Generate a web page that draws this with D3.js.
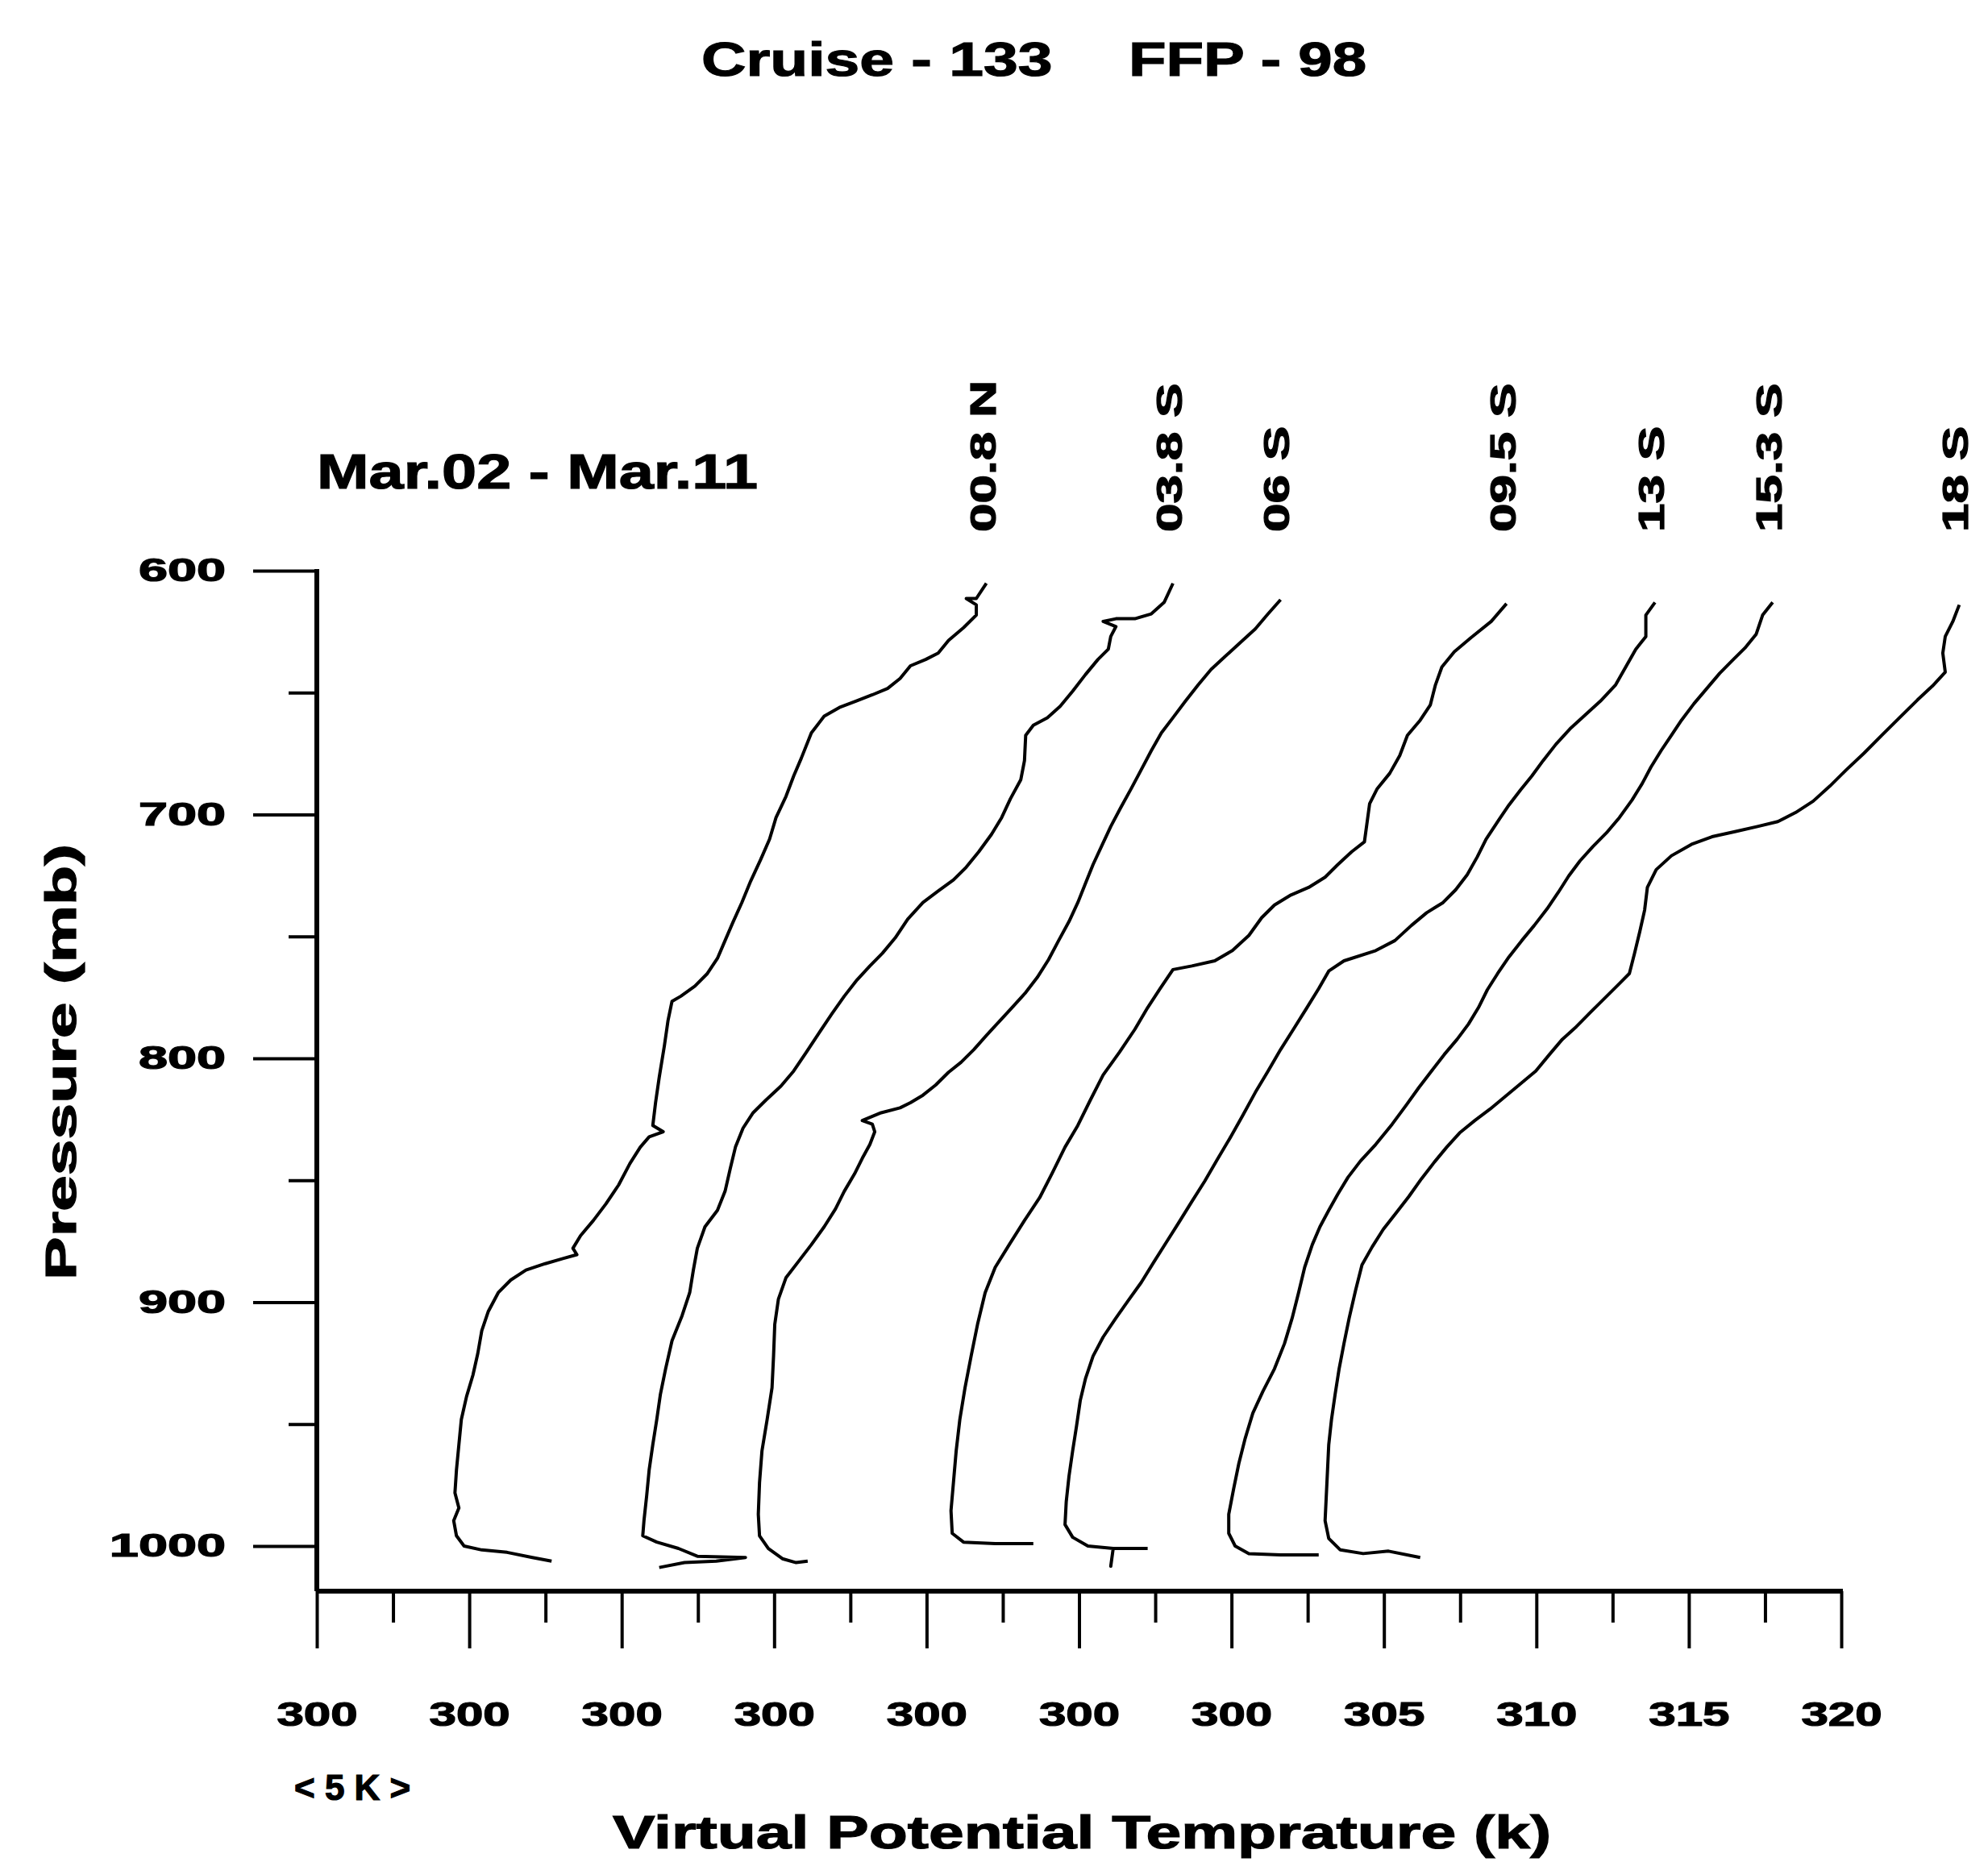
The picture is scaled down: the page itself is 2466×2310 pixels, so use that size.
<!DOCTYPE html>
<html>
<head>
<meta charset="utf-8">
<script src="https://cdn.jsdelivr.net/npm/d3@7"></script>
<style>
  body { margin: 0; background: #fff; }
  svg text { font-family: "Liberation Sans", Arial, sans-serif; font-weight: bold; fill: #000; stroke: #000; stroke-width: 1.2px; }
</style>
</head>
<body>
<svg id="chart"></svg>
<script>
var pressureTicks = [600, 700, 800, 900, 1000],
    pressureMinor = [650, 750, 850, 950],
    thetaTicks = [0, 5, 10, 15, 20, 25, 30, 35, 40, 45, 50],
    thetaMinor = [2.5, 7.5, 12.5, 17.5, 22.5, 27.5, 32.5, 37.5, 42.5, 47.5],
    thetaLabels = ["300", "300", "300", "300", "300", "300", "300", "305", "310", "315", "320"],
    stations = ["00.8 N", "03.8 S", "06 S", "09.5 S", "13 S", "15.3 S", "18 S"];

// [theta offset along axis (K), pressure (mb)]
var prof008N = [[21.96,605.2],[21.63,611.4],[21.30,611.4],[21.63,614.0],[21.63,618.2],[21.21,623.4],[20.72,628.6],[20.38,633.8],[19.97,636.4],[19.47,639.0],[19.13,644.2],[18.72,648.3],[18.22,650.9],[17.68,653.5],[17.14,656.1],[16.64,659.7],[16.22,666.5],[15.89,676.9],[15.64,684.2],[15.39,692.5],[15.06,701.3],[14.85,710.1],[14.56,718.4],[14.23,727.3],[13.94,736.1],[13.64,744.4],[13.39,751.7],[13.14,759.0],[12.81,765.2],[12.40,770.4],[11.94,774.5],[11.65,776.6],[11.52,784.4],[11.40,794.8],[11.23,807.8],[11.11,818.2],[11.02,827.5],[11.36,830.1],[10.90,832.2],[10.61,836.4],[10.27,843.1],[9.90,851.9],[9.48,859.7],[9.07,866.5],[8.65,872.7],[8.40,877.9],[8.53,880.5],[8.07,882.1],[7.49,884.2],[6.86,886.8],[6.36,890.9],[5.95,896.1],[5.62,903.9],[5.41,911.7],[5.28,921.0],[5.12,929.9],[4.91,938.7],[4.74,948.1],[4.66,958.4],[4.58,968.8],[4.53,978.2],[4.66,984.4],[4.49,989.6],[4.58,995.8],[4.83,1000.0],[5.41,1001.6],[6.24,1002.6],[7.07,1004.7],[7.70,1006.2]];
var prof038S = [[28.08,605.2],[27.79,613.0],[27.37,617.7],[26.83,619.7],[26.21,619.7],[25.79,620.8],[26.21,622.9],[26.04,627.0],[25.96,632.2],[25.62,636.4],[25.21,642.6],[24.79,649.4],[24.38,655.6],[23.96,660.3],[23.50,663.4],[23.25,667.5],[23.21,677.9],[23.09,685.7],[22.75,693.5],[22.46,701.3],[22.13,708.1],[21.71,715.3],[21.30,721.6],[20.88,726.8],[20.38,731.4],[19.88,736.1],[19.38,742.9],[18.97,750.6],[18.55,756.9],[18.14,762.1],[17.72,767.8],[17.30,774.5],[16.89,781.8],[16.47,789.6],[16.06,797.4],[15.64,805.2],[15.22,811.4],[14.73,817.1],[14.31,822.3],[13.98,828.6],[13.73,836.4],[13.56,845.2],[13.39,854.5],[13.14,862.3],[12.73,869.1],[12.48,877.9],[12.35,886.8],[12.23,896.1],[11.98,905.5],[11.65,915.8],[11.44,927.3],[11.27,937.7],[11.15,948.1],[11.02,958.4],[10.90,968.8],[10.82,979.2],[10.73,989.6],[10.69,995.8],[11.15,998.4],[11.86,1001.0],[12.48,1004.2],[14.06,1004.7],[13.10,1006.2],[12.06,1006.8],[11.23,1008.8]];
var prof06S = [[31.61,611.9],[31.20,617.7],[30.78,623.9],[30.28,629.6],[29.78,635.3],[29.33,640.5],[28.91,646.8],[28.49,653.5],[28.08,660.3],[27.70,666.5],[27.37,673.8],[27.04,681.6],[26.71,689.4],[26.37,697.1],[26.04,704.9],[25.75,712.7],[25.46,720.5],[25.21,728.3],[24.96,736.1],[24.67,743.9],[24.33,751.7],[24.00,759.5],[23.63,766.8],[23.25,773.0],[22.80,779.2],[22.38,784.9],[21.96,790.6],[21.55,796.4],[21.13,801.6],[20.72,805.7],[20.30,810.9],[19.88,815.1],[19.47,818.2],[19.13,820.3],[18.51,822.3],[17.89,825.5],[18.22,827.0],[18.30,830.1],[18.14,835.3],[17.89,841.0],[17.64,847.3],[17.30,854.5],[17.01,861.8],[16.64,869.1],[16.22,876.4],[15.81,883.1],[15.39,889.9],[15.14,898.7],[15.02,909.1],[14.98,922.1],[14.93,935.1],[14.77,948.1],[14.60,961.0],[14.52,974.0],[14.48,987.0],[14.52,995.8],[14.81,1001.0],[15.27,1005.2],[15.72,1006.8],[16.10,1006.2]];
var prof095S = [[39.02,613.5],[38.52,620.8],[37.85,627.5],[37.31,633.2],[36.90,639.5],[36.69,646.8],[36.52,655.1],[36.19,661.3],[35.77,667.5],[35.52,675.8],[35.19,683.1],[34.78,689.4],[34.53,695.6],[34.44,703.9],[34.36,711.2],[33.94,715.3],[33.49,720.5],[33.07,725.7],[32.53,729.9],[31.95,733.0],[31.41,737.1],[30.99,742.3],[30.57,749.6],[30.03,755.8],[29.45,760.0],[28.70,762.1],[28.08,763.6],[27.66,771.4],[27.25,779.2],[26.83,788.1],[26.33,797.4],[25.79,806.8],[25.37,817.1],[24.96,827.5],[24.54,836.4],[24.13,846.8],[23.71,857.1],[23.21,866.5],[22.71,876.4],[22.25,885.7],[21.92,896.1],[21.67,909.1],[21.46,922.1],[21.26,935.1],[21.09,948.1],[20.97,961.0],[20.88,974.0],[20.80,985.5],[20.84,994.8],[21.21,998.4],[22.25,999.0],[23.50,999.0]];
var prof13S = [[43.89,613.0],[43.59,618.2],[43.59,627.0],[43.26,632.2],[42.93,639.5],[42.60,646.8],[42.10,653.5],[41.60,659.2],[41.10,664.9],[40.64,671.2],[40.22,677.9],[39.85,684.2],[39.48,689.9],[39.10,696.1],[38.73,702.9],[38.35,710.1],[38.06,717.4],[37.73,724.7],[37.35,730.9],[36.94,736.1],[36.40,740.3],[35.90,745.5],[35.36,751.7],[34.73,755.8],[33.69,760.0],[33.19,764.2],[32.86,771.4],[32.45,779.7],[32.03,788.1],[31.61,796.4],[31.20,805.2],[30.78,814.0],[30.37,823.4],[29.95,832.7],[29.53,841.6],[29.12,850.4],[28.70,858.7],[28.29,867.0],[27.87,875.3],[27.45,883.6],[27.04,891.9],[26.62,899.2],[26.21,906.5],[25.79,914.3],[25.46,922.1],[25.21,931.4],[25.04,940.3],[24.92,950.6],[24.79,961.0],[24.67,971.4],[24.58,981.8],[24.54,991.2],[24.79,996.4],[25.29,1000.0],[26.12,1001.0],[26.04,1008.3],[26.12,1001.0],[27.25,1001.0]];
var prof153S = [[47.75,613.0],[47.42,618.2],[47.21,626.0],[46.84,631.7],[46.42,636.9],[46.01,642.1],[45.59,648.3],[45.17,654.5],[44.76,661.3],[44.43,667.5],[44.09,673.8],[43.76,680.5],[43.47,687.3],[43.14,694.0],[42.72,701.3],[42.30,707.5],[41.85,713.2],[41.43,719.0],[41.06,725.2],[40.72,731.9],[40.35,738.7],[39.93,745.5],[39.52,751.7],[39.10,758.4],[38.73,765.2],[38.39,771.9],[38.10,779.2],[37.77,786.0],[37.40,792.2],[36.98,798.4],[36.56,805.2],[36.15,811.9],[35.73,819.2],[35.27,827.0],[34.73,835.3],[34.23,842.1],[33.82,848.8],[33.49,855.6],[33.19,862.3],[32.90,869.1],[32.65,876.4],[32.40,885.7],[32.20,896.1],[31.99,906.5],[31.74,916.9],[31.41,927.3],[31.03,936.6],[30.70,945.5],[30.45,955.8],[30.24,966.2],[30.07,976.6],[29.91,987.0],[29.91,994.8],[30.12,1000.0],[30.57,1003.1],[31.61,1003.6],[32.86,1003.6]];
var prof18S = [[53.87,614.0],[53.66,620.8],[53.41,627.0],[53.33,633.8],[53.41,641.6],[52.99,647.3],[52.50,653.0],[51.91,660.3],[51.33,667.5],[50.75,674.8],[50.17,681.6],[49.63,688.3],[49.08,694.5],[48.50,699.2],[47.92,702.9],[47.25,704.9],[46.51,707.0],[45.76,709.1],[45.09,712.2],[44.43,716.9],[43.93,722.6],[43.64,729.9],[43.55,739.2],[43.39,748.1],[43.22,756.9],[43.05,765.2],[42.68,769.9],[42.22,775.6],[41.76,781.3],[41.31,787.0],[40.85,792.2],[40.43,798.4],[39.98,805.2],[39.48,810.4],[38.98,815.6],[38.48,820.8],[37.98,825.5],[37.48,830.6],[37.06,836.4],[36.65,842.6],[36.23,849.4],[35.82,856.6],[35.40,863.4],[34.98,870.1],[34.61,877.4],[34.28,884.7],[34.07,895.1],[33.86,906.5],[33.69,916.9],[33.53,927.3],[33.40,937.7],[33.28,948.1],[33.19,958.4],[33.15,968.8],[33.11,979.2],[33.07,989.6],[33.19,996.9],[33.57,1001.6],[34.32,1003.1],[35.15,1002.1],[36.19,1004.7]];

var profiles = [prof008N, prof038S, prof06S, prof095S, prof13S, prof153S, prof18S];

var width = 2466, height = 2310,
    pBottom = 1018.5,
    xScale = d3.scaleLinear().domain([0, 50]).range([393, 2284]),
    yScale = d3.scaleLinear().domain([600, 1000]).range([708, 1918]),
    axisY = yScale(pBottom);

var svg = d3.select("#chart")
    .attr("width", width)
    .attr("height", height);

// widen glyphs like the heavy extended face of the original
function stretch(sel, k) {
  sel.each(function() {
    var w = this.getComputedTextLength();
    d3.select(this).attr("textLength", w * k).attr("lengthAdjust", "spacingAndGlyphs");
  });
}

var yAxis = svg.append("g")
    .attr("transform", "translate(" + xScale(0) + ",0)")
    .call(d3.axisLeft(yScale).tickValues(pressureTicks).tickSize(79).tickPadding(34)
      .tickFormat(d3.format("d")));
yAxis.select(".domain").remove();
yAxis.selectAll("line").attr("stroke", "#000").attr("stroke-width", 4);
yAxis.selectAll("text")
    .attr("font-size", 40)
    .attr("font-family", null)
    .call(stretch, 1.62);

var yMinor = svg.append("g")
    .attr("transform", "translate(" + xScale(0) + ",0)")
    .call(d3.axisLeft(yScale).tickValues(pressureMinor).tickSize(35).tickFormat(""));
yMinor.select(".domain").remove();
yMinor.selectAll("line").attr("stroke", "#000").attr("stroke-width", 4);

var xAxis = svg.append("g")
    .attr("transform", "translate(0," + axisY + ")")
    .call(d3.axisBottom(xScale).tickValues(thetaTicks).tickSize(71).tickPadding(66)
      .tickFormat(function(d, i) { return thetaLabels[i]; }));
xAxis.select(".domain").remove();
xAxis.selectAll("line").attr("stroke", "#000").attr("stroke-width", 4);
xAxis.selectAll("text")
    .attr("font-size", 42)
    .attr("font-family", null)
    .call(stretch, 1.43);

var xMinor = svg.append("g")
    .attr("transform", "translate(0," + axisY + ")")
    .call(d3.axisBottom(xScale).tickValues(thetaMinor).tickSize(39).tickFormat(""));
xMinor.select(".domain").remove();
xMinor.selectAll("line").attr("stroke", "#000").attr("stroke-width", 4);

svg.append("line")
    .attr("x1", xScale(0)).attr("x2", xScale(0))
    .attr("y1", yScale(600) - 2).attr("y2", axisY)
    .attr("stroke", "#000").attr("stroke-width", 6);

svg.append("line")
    .attr("x1", xScale(0)).attr("x2", xScale(50) + 2)
    .attr("y1", axisY).attr("y2", axisY)
    .attr("stroke", "#000").attr("stroke-width", 6);

var line = d3.line()
    .x(function(d) { return xScale(d[0]); })
    .y(function(d) { return yScale(d[1]); });

svg.append("g")
  .selectAll("path")
    .data(profiles).enter()
  .append("path")
    .attr("d", line)
    .attr("fill", "none")
    .attr("stroke", "#000")
    .attr("stroke-width", 4)
    .attr("stroke-linejoin", "round");

svg.append("g")
  .selectAll("text")
    .data(stations).enter()
  .append("text")
    .attr("transform", function(d, i) {
      return "translate(" + (xScale(profiles[i][0][0]) + 11) + "," + (yScale(600) - 48) + ") rotate(-90)";
    })
    .attr("font-size", 44)
    .text(function(d) { return d; })
    .call(stretch, 1.45);

svg.append("text")
    .attr("x", 870).attr("y", 94)
    .attr("font-size", 60)
    .text("Cruise - 133")
    .call(stretch, 1.28);

svg.append("text")
    .attr("x", 1400).attr("y", 94)
    .attr("font-size", 60)
    .text("FFP - 98")
    .call(stretch, 1.27);

svg.append("text")
    .attr("x", 393).attr("y", 606)
    .attr("font-size", 62)
    .text("Mar.02 - Mar.11")
    .call(stretch, 1.25);

svg.append("text")
    .attr("transform", "translate(94,1588) rotate(-90)")
    .attr("font-size", 54)
    .text("Pressure (mb)")
    .call(stretch, 1.49);

svg.append("text")
    .attr("x", 365).attr("y", 2233)
    .attr("font-size", 44)
    .text("< 5 K >")
    .call(stretch, 1.0);

svg.append("text")
    .attr("x", 760).attr("y", 2293)
    .attr("font-size", 57)
    .text("Virtual Potential Temprature (k)")
    .call(stretch, 1.38);
</script>
</body>
</html>
